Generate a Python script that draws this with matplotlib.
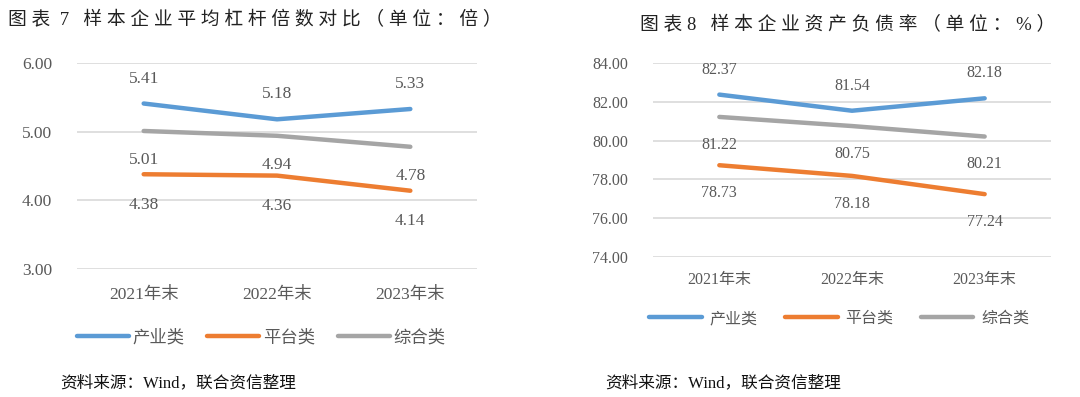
import matplotlib
matplotlib.use("agg")
import matplotlib.pyplot as plt

plt.rcParams['font.family'] = ['Liberation Serif', 'Noto Sans CJK SC']

# 數據
categories = ["2021年末", "2022年末", "2023年末"]
series_names = ["产业类", "平台类", "综合类"]

lev_industry = [5.41, 5.18, 5.33]
lev_platform = [4.38, 4.36, 4.14]
lev_mixed = [5.01, 4.94, 4.78]

debt_industry = [82.37, 81.54, 82.18]
debt_platform = [78.73, 78.18, 77.24]
debt_mixed = [81.22, 80.75, 80.21]

colors = ["#5B9BD5", "#ED7D31", "#A5A5A5"]
text_gray = "#595959"

W, H = 1080, 397
fig = plt.figure(figsize=(W / 100, H / 100), dpi=100)


def px_axes(x0, y_top, x1, y_bot):
    return fig.add_axes([x0 / W, 1 - y_bot / H, (x1 - x0) / W, (y_bot - y_top) / H])


def spaced(s):
    # 標題字距較寬，用空格撐開
    return " ".join(s)


def draw_panel(ax, data, ylim, yticks, fs, offsets):
    x = range(len(categories))
    for vals, c, name, off in zip(data, colors, series_names, offsets):
        ax.plot(x, vals, color=c, lw=3.2, solid_capstyle="round", label=name, zorder=3)
        for xi, v in zip(x, vals):
            ax.annotate(f"{v:.2f}", (xi, v), xytext=(0, off), textcoords="offset points",
                        ha="center", va="center", fontsize=fs, color=text_gray)
    ax.set_xlim(-0.5, 2.5)
    ax.set_ylim(*ylim)
    ax.set_yticks(yticks)
    ax.set_yticklabels([f"{t:.2f}" for t in yticks])
    ax.set_xticks(list(x))
    ax.set_xticklabels(categories)
    ax.tick_params(length=0, labelsize=fs, labelcolor=text_gray)
    ax.tick_params(axis="y", pad=18)
    ax.grid(axis="y", color="#D9D9D9", lw=1.2)
    ax.set_axisbelow(True)
    for s in ax.spines.values():
        s.set_visible(False)


# 左圖：平均槓桿倍數
ax1 = px_axes(77, 63, 477, 269)
draw_panel(ax1, [lev_industry, lev_platform, lev_mixed], (3, 6), [3, 4, 5, 6], 12.5,
           [18, -22, -21])
ax1.tick_params(axis="x", pad=13)
ax1.legend(loc="center left", bbox_to_anchor=(0.0, -0.335), ncol=3, frameon=False,
           fontsize=12.5, handlelength=3.0, handletextpad=0.2, columnspacing=1.3,
           labelcolor=text_gray, borderaxespad=0, borderpad=0)
fig.text(8 / W, 1 - 20 / H, "图 表  7   " + spaced("样本企业平均杠杆倍数对比（单位：倍）"),
         fontsize=13.5, color="#222222", va="center", ha="left")
fig.text(60 / W, 1 - 383 / H, "资料来源：Wind，联合资信整理", fontsize=12,
         color="#111111", va="center", ha="left")

# 右圖：資產負債率
ax2 = px_axes(653, 63, 1051, 257)
draw_panel(ax2, [debt_industry, debt_platform, debt_mixed], (74, 84), [74, 76, 78, 80, 82, 84],
           11.5, [18, -20, -20])
ax2.tick_params(axis="x", pad=11)
ax2.legend(loc="center left", bbox_to_anchor=(-0.01, -0.32), ncol=3, frameon=False,
           fontsize=11.5, handlelength=3.3, handletextpad=0.5, columnspacing=1.7,
           labelcolor=text_gray, borderaxespad=0, borderpad=0)
fig.text(640 / W, 1 - 25 / H, "图 表 8   " + spaced("样本企业资产负债率（单位：%）"),
         fontsize=13.5, color="#222222", va="center", ha="left")
fig.text(605 / W, 1 - 383 / H, "资料来源：Wind，联合资信整理", fontsize=12,
         color="#111111", va="center", ha="left")

fig.savefig("out.png", dpi=100)
